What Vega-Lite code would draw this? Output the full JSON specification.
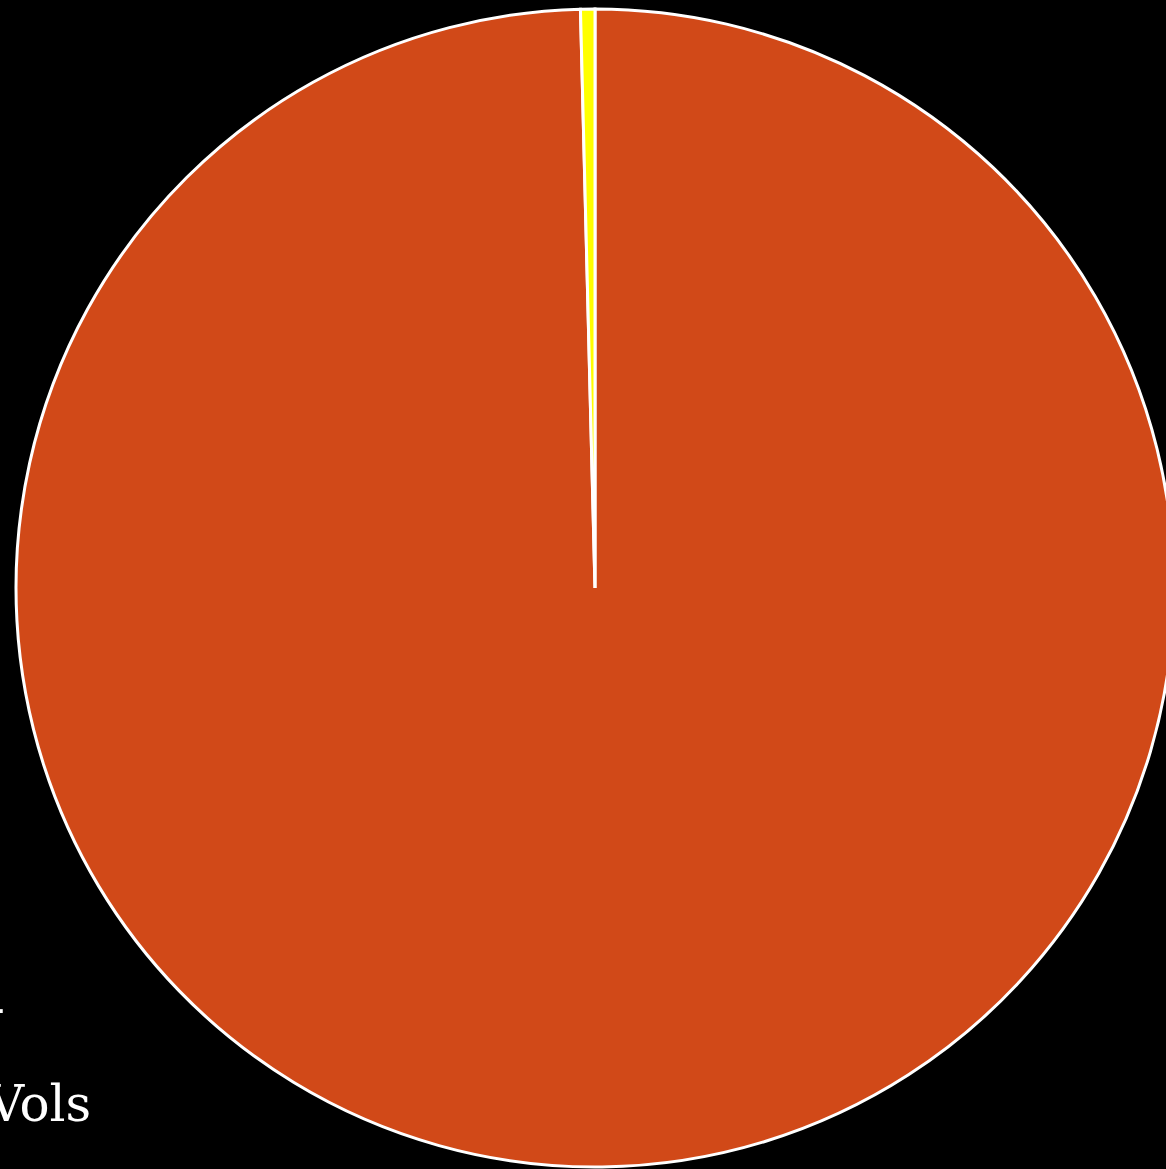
{
  "$schema": "https://vega.github.io/schema/vega-lite/v6.json",
  "width": 1190,
  "height": 1176,
  "padding": 0,
  "autosize": {"type": "none"},
  "background": "black",
  "config": {"view": {"stroke": null}},
  "data": {"values": [
    {"team": "-", "share": 99.6, "ord": 1},
    {"team": "Vols", "share": 0.4, "ord": 2}
  ]},
  "mark": {"type": "arc", "radius": 579, "stroke": "white", "strokeWidth": 3},
  "encoding": {
    "theta": {"field": "share", "type": "quantitative", "stack": true},
    "order": {"field": "ord", "type": "quantitative"},
    "color": {
      "field": "team", "type": "nominal",
      "scale": {"domain": ["-", "Vols"], "range": ["#D14918", "#FFFF00"]},
      "legend": {
        "title": null, "orient": "none", "legendX": -70, "legendY": 985,
        "labelFont": "DejaVu Serif", "labelFontSize": 50, "labelColor": "white",
        "symbolSize": 1200, "symbolType": "circle", "labelOffset": 8,
        "rowPadding": 46
      }
    }
  }
}
